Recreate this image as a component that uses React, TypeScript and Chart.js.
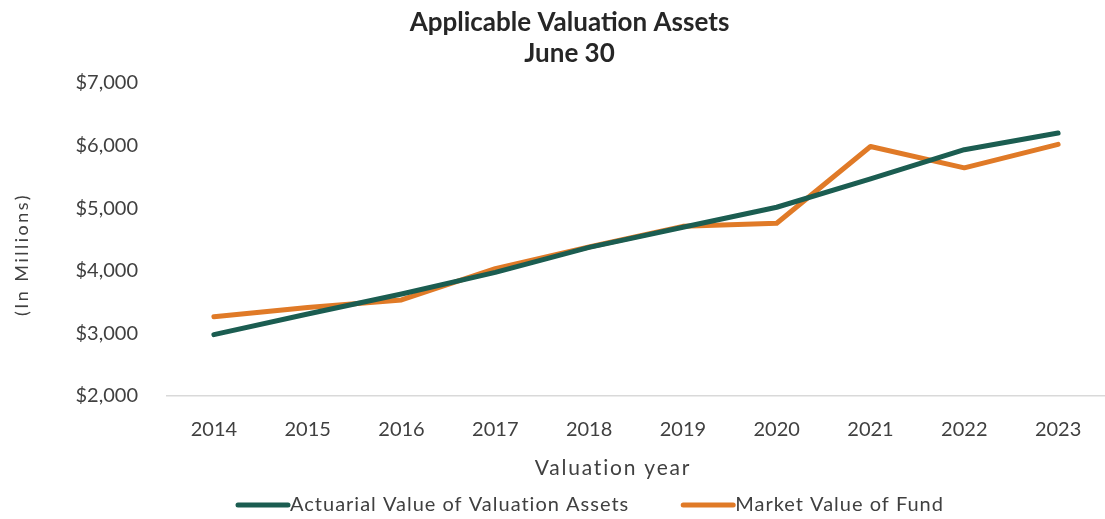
import React, { useEffect, useRef } from "react";
import { Chart, registerables } from "chart.js";

Chart.register(...registerables);

const categories = ["2014", "2015", "2016", "2017", "2018", "2019", "2020", "2021", "2022", "2023"];
const actuarialValues = [2980, 3310, 3630, 3975, 4375, 4695, 5015, 5470, 5935, 6200];
const marketValues = [3265, 3415, 3535, 4035, 4380, 4710, 4760, 5985, 5645, 6020];
const yTickValues = [2000, 3000, 4000, 5000, 6000, 7000];
const seriesLabels = ["Actuarial Value of Valuation Assets", "Market Value of Fund"];
const titleLines = ["Applicable Valuation Assets", "June 30"];
const xAxisTitle = "Valuation year";
const yAxisTitle = "(In Millions)";

const GREEN = "#1b5d51";
const ORANGE = "#e07a27";
const TEXT = "#404040";
const FONT = "Lato, 'Open Sans', sans-serif";

const shiftTitle = {
  id: "shiftTitle",
  afterLayout(chart: any) {
    const t = chart.titleBlock;
    if (t) {
      t.left += 17;
      t.right += 17;
    }
  },
};

const extraText = {
  id: "extraText",
  afterDraw(chart: any) {
    const ctx = chart.ctx;
    const area = chart.chartArea;
    ctx.save();
    ctx.fillStyle = TEXT;
    ctx.textBaseline = "middle";

    // y-axis title
    ctx.save();
    ctx.font = `18px ${FONT}`;
    (ctx as any).letterSpacing = "2.5px";
    ctx.textAlign = "center";
    ctx.translate(22, (area.top + area.bottom) / 2 + 15);
    ctx.rotate(-Math.PI / 2);
    ctx.fillText(yAxisTitle, 0, 0);
    ctx.restore();

    // x-axis title
    ctx.font = `21px ${FONT}`;
    (ctx as any).letterSpacing = "1.8px";
    ctx.textAlign = "center";
    ctx.fillText(xAxisTitle, 613, 468);

    // legend
    ctx.font = `20px ${FONT}`;
    (ctx as any).letterSpacing = "1px";
    ctx.textAlign = "left";
    let x = 236;
    const y = 505;
    chart.data.datasets.forEach((ds: any) => {
      ctx.strokeStyle = ds.borderColor;
      ctx.lineWidth = 5;
      ctx.lineCap = "round";
      ctx.beginPath();
      ctx.moveTo(x + 2, y);
      ctx.lineTo(x + 52, y);
      ctx.stroke();
      x += 54;
      ctx.fillText(ds.label, x, y);
      x += ctx.measureText(ds.label).width + 52;
    });
    ctx.restore();
  },
};

export default function App() {
  const ref = useRef<HTMLCanvasElement | null>(null);

  useEffect(() => {
    document.body.style.margin = "0";
    if (!ref.current) return;
    const chart = new Chart(ref.current, {
      type: "line",
      data: {
        labels: categories,
        datasets: [
          {
            label: seriesLabels[0],
            data: actuarialValues,
            borderColor: GREEN,
            backgroundColor: GREEN,
            borderWidth: 5,
            pointRadius: 0,
            borderCapStyle: "round",
            borderJoinStyle: "round",
            tension: 0,
          },
          {
            label: seriesLabels[1],
            data: marketValues,
            borderColor: ORANGE,
            backgroundColor: ORANGE,
            borderWidth: 5,
            pointRadius: 0,
            borderCapStyle: "round",
            borderJoinStyle: "round",
            tension: 0,
          },
        ],
      },
      options: {
        animation: false,
        responsive: false,
        layout: { padding: { left: 0, right: 0, top: 0, bottom: 55 } },
        plugins: {
          legend: { display: false },
          tooltip: { enabled: false },
          title: {
            display: true,
            text: titleLines,
            color: "#262626",
            font: { family: FONT, size: 26, weight: "bold", lineHeight: 31 / 26 },
            padding: { top: 7, bottom: 14 },
          },
        },
        scales: {
          x: {
            type: "category",
            offset: true,
            grid: { display: false, drawTicks: false },
            border: { display: true, color: "#d9d9d9", width: 1.5 },
            ticks: { color: TEXT, font: { family: FONT, size: 20 }, padding: 22, maxRotation: 0 },
          },
          y: {
            min: 2000,
            max: 7000,
            afterFit(scale: any) {
              scale.width = 167;
            },
            afterBuildTicks(scale: any) {
              scale.ticks = yTickValues.map((v) => ({ value: v }));
            },
            grid: { display: false, drawTicks: false },
            border: { display: false },
            ticks: {
              color: TEXT,
              font: { family: FONT, size: 20 },
              padding: 29,
              callback: (v: any) => "$" + Number(v).toLocaleString("en-US"),
            },
          },
        },
      },
      plugins: [shiftTitle, extraText],
    });
    return () => chart.destroy();
  }, []);

  return (
    <div style={{ position: "relative", width: 1105, height: 519, background: "#fff" }}>
      <canvas ref={ref} width={1105} height={519} style={{ width: 1105, height: 519, display: "block" }} />
    </div>
  );
}
